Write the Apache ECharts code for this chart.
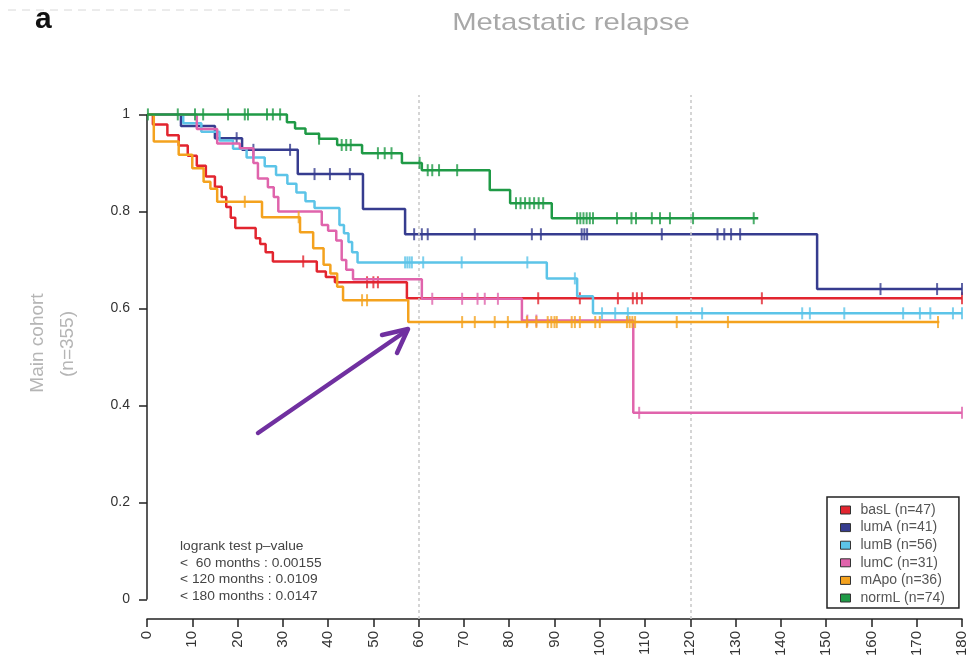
<!DOCTYPE html>
<html>
<head>
<meta charset="utf-8">
<script src="https://cdn.jsdelivr.net/npm/echarts@6/dist/echarts.min.js"></script>
<style>
  html, body { margin: 0; padding: 0; background: #fff; }
  #chart { width: 979px; height: 669px; }
</style>
</head>
<body>
<div id="chart"></div>
<script>
// ─── Data ────────────────────────────────────────

const groupNames = ['basL (n=47)', 'lumA (n=41)', 'lumB (n=56)', 'lumC (n=31)', 'mApo (n=36)', 'normL (n=74)'];
const groupColors = ['#e2252f', '#363c8f', '#5cc4e8', '#e064ac', '#f4a21e', '#1f9a46'];

const xTickLabels = [0, 10, 20, 30, 40, 50, 60, 70, 80, 90, 100, 110, 120, 130, 140, 150, 160, 170, 180];
const yTickValues = [0, 0.2, 0.4, 0.6, 0.8, 1];
const cutoffMonths = [60, 120];

// basL
const basLTimes = [0, 1.3, 4.5, 7, 9, 11, 13, 15, 16.5, 17.5, 18.5, 19.5, 24, 25, 26.2, 27.8, 37.5, 39.5, 41.5, 57.4, 180];
const basLSurv = [1, 0.979, 0.957, 0.936, 0.915, 0.894, 0.872, 0.851, 0.83, 0.809, 0.787, 0.766, 0.745, 0.733, 0.716, 0.697, 0.676, 0.665, 0.654, 0.621, 0.621];
const basLCensor = [34.5, 48.6, 50, 51, 86.4, 95.6, 104, 107.3, 108.2, 109.3, 135.8, 180];

// lumA
const lumATimes = [0, 7.5, 15, 21, 33.3, 47.7, 57, 148, 180];
const lumASurv = [1, 0.976, 0.951, 0.927, 0.877, 0.805, 0.753, 0.64, 0.64];
const lumACensor = [19.8, 23.5, 31.6, 37, 40.4, 44.8, 59, 60.7, 62, 72.4, 85, 87, 96, 96.6, 97.2, 113.7, 126, 127.5, 129, 131, 162, 174.5, 180];

// lumB
const lumBTimes = [0, 8, 12, 16, 19, 22, 26, 28.5, 31, 33, 35, 37, 42.5, 43.5, 44.5, 45.3, 46.5, 88.3, 95, 98.5, 180];
const lumBSurv = [1, 0.982, 0.964, 0.946, 0.929, 0.911, 0.893, 0.875, 0.857, 0.839, 0.821, 0.807, 0.772, 0.755, 0.737, 0.716, 0.695, 0.662, 0.625, 0.59, 0.59];
const lumBCensor = [57, 57.5, 58, 58.5, 61, 69.5, 84, 94.5, 100.5, 103.4, 106.2, 122.6, 144.7, 146.4, 154, 167, 170.7, 173, 178, 180];

// lumC
const lumCTimes = [0, 11, 15.5, 20.5, 23.5, 24.5, 26.7, 28, 29, 38.6, 40, 41.8, 43, 44, 45.5, 60.7, 82.8, 107.4, 180];
const lumCSurv = [1, 0.97, 0.94, 0.93, 0.9, 0.868, 0.85, 0.83, 0.8, 0.772, 0.76, 0.74, 0.7, 0.68, 0.66, 0.62, 0.575, 0.385, 0.385];
const lumCCensor = [63, 69.6, 73, 74.6, 77.5, 84, 86, 108.7, 180];

// mApo
const mApoTimes = [0, 1.5, 7, 10, 12.5, 14, 15.5, 25.4, 33.8, 36.7, 39, 40.5, 42, 43.3, 57.7, 175];
const mApoSurv = [1, 0.944, 0.917, 0.889, 0.861, 0.847, 0.82, 0.788, 0.757, 0.724, 0.69, 0.672, 0.645, 0.617, 0.572, 0.572];
const mApoCensor = [21.6, 33.5, 47.5, 48.6, 69.6, 72.4, 76.8, 79.7, 83.9, 86, 88.5, 89.3, 90, 90.5, 93.8, 94.5, 95.6, 99, 100, 106, 106.6, 107.2, 107.8, 117, 128.3, 174.7];

// normL
const normLTimes = [0, 30.9, 32.7, 35, 38, 42, 47.5, 56.3, 60.7, 75.7, 80.2, 89.4, 135];
const normLSurv = [1, 0.984, 0.971, 0.96, 0.95, 0.937, 0.92, 0.9, 0.885, 0.844, 0.817, 0.786, 0.786];
const normLCensor = [0.2, 6.8, 10.6, 12.4, 17.9, 21.6, 22.3, 26.5, 27.8, 29.4, 38, 43, 44, 45, 51, 52.5, 54, 60.2, 62, 63, 64.5, 68.5, 81.5, 82.5, 83.5, 84.5, 85.5, 86.5, 87.5, 95, 95.7, 96.4, 97.1, 97.8, 98.5, 103.8, 107, 108, 111.5, 113.3, 115.5, 120.6, 134];

const pValueLines = ['logrank test p\u2013value', '<  60 months : 0.00155', '< 120 months : 0.0109', '< 180 months : 0.0147'];

// ─── Chart ───────────────────────────────────────

const FONT = "'Liberation Sans', Arial, sans-serif";

const curves = [
  [basLTimes, basLSurv, basLCensor],
  [lumATimes, lumASurv, lumACensor],
  [lumBTimes, lumBSurv, lumBCensor],
  [lumCTimes, lumCSurv, lumCCensor],
  [mApoTimes, mApoSurv, mApoCensor],
  [normLTimes, normLSurv, normLCensor]
];

// value of the step curve at time t
function survAt(times, surv, t) {
  let v = surv[0];
  for (let i = 0; i < times.length; i++) {
    if (times[i] <= t) v = surv[i];
  }
  return v;
}

const series = [];

// dotted cut-offs at 60 and 120 months
series.push({
  type: 'line',
  data: [],
  silent: true,
  markLine: {
    silent: true,
    symbol: 'none',
    label: { show: false },
    lineStyle: { color: '#c8c8c8', type: [3, 3], width: 1.5 },
    data: cutoffMonths.map(m => ({ xAxis: m }))
  }
});

curves.forEach(([times, surv, censor], i) => {
  series.push({
    name: groupNames[i],
    type: 'line',
    step: 'end',
    showSymbol: false,
    silent: true,
    z: 3 + i,
    color: groupColors[i],
    lineStyle: { width: 2.5, color: groupColors[i] },
    data: times.map((t, k) => [t, surv[k]])
  });
  // censoring ticks
  series.push({
    name: groupNames[i],
    type: 'scatter',
    symbol: 'rect',
    symbolSize: [2, 12],
    silent: true,
    z: 3 + i,
    itemStyle: { color: groupColors[i] },
    data: censor.map(t => [t, survAt(times, surv, t)])
  });
});

// y axis line, only from 0 to 1 like base R
series.push({
  type: 'line',
  data: [],
  silent: true,
  z: 20,
  markLine: {
    silent: true,
    symbol: 'none',
    label: { show: false },
    lineStyle: { color: '#222', type: 'solid', width: 1.5 },
    data: [[{ coord: [0, yTickValues[0]] }, { coord: [0, yTickValues[yTickValues.length - 1]] }]]
  }
});

const chart = echarts.init(document.getElementById('chart'));

chart.setOption({
  animation: false,
  backgroundColor: '#fff',
  textStyle: { fontFamily: FONT },
  grid: { left: 147, right: 17, top: 95, bottom: 50 },
  xAxis: {
    type: 'value',
    min: xTickLabels[0],
    max: xTickLabels[xTickLabels.length - 1],
    interval: 10,
    splitLine: { show: false },
    axisLine: { onZero: false, lineStyle: { color: '#222', width: 1.5 } },
    axisTick: { length: 8, lineStyle: { color: '#222', width: 1.5 } },
    axisLabel: { rotate: 90, margin: 12, fontSize: 15, color: '#333', fontFamily: FONT }
  },
  yAxis: {
    type: 'value',
    min: -0.04,
    max: 1.04,
    splitLine: { show: false },
    axisLine: { show: false },
    axisTick: {
      show: true,
      length: 8,
      customValues: yTickValues,
      lineStyle: { color: '#222', width: 1.5 }
    },
    axisLabel: {
      customValues: yTickValues,
      margin: 17,
      fontSize: 14,
      color: '#333',
      fontFamily: FONT,
      formatter: v => String(+(+v).toFixed(1))
    }
  },
  legend: {
    data: groupNames,
    orient: 'vertical',
    left: 827,
    top: 497,
    padding: [6, 14, 3, 13],
    icon: 'rect',
    itemWidth: 10,
    itemHeight: 8,
    itemGap: 3.6,
    borderColor: '#222',
    borderWidth: 1.5,
    borderRadius: 0,
    selectedMode: false,
    itemStyle: { borderColor: '#333', borderWidth: 1 },
    textStyle: { fontSize: 14, color: '#555', fontFamily: FONT, lineHeight: 14, padding: [0, 0, 0, 5] }
  },
  graphic: [
    { type: 'line', silent: true, shape: { x1: 8, y1: 10, x2: 350, y2: 10 },
      style: { stroke: '#d8d8d8', lineWidth: 1, lineDash: [8, 6] } },
    { type: 'text', silent: true, x: 35, y: 20,
      style: { text: 'a', font: 'bold 30px ' + FONT, fill: '#111', textVerticalAlign: 'middle' } },
    { type: 'text', silent: true, x: 571, y: 23, scaleX: 1.22,
      style: { text: 'Metastatic relapse', font: '24px ' + FONT, fill: '#a8a8a8', textAlign: 'center', textVerticalAlign: 'middle' } },
    { type: 'text', silent: true, x: 38, y: 343, rotation: Math.PI / 2,
      style: { text: 'Main cohort', font: '19px ' + FONT, fill: '#b5b5b5', textAlign: 'center', textVerticalAlign: 'middle' } },
    { type: 'text', silent: true, x: 68, y: 344, rotation: Math.PI / 2,
      style: { text: '(n=355)', font: '19px ' + FONT, fill: '#b5b5b5', textAlign: 'center', textVerticalAlign: 'middle' } },
    ...pValueLines.map((t, i) => ({
      type: 'text', silent: true, x: 180, y: 547 + i * 16.5, scaleX: 1.15,
      style: { text: t, font: '12px ' + FONT, fill: '#444', textVerticalAlign: 'middle' }
    })),
    // purple annotation arrow
    { type: 'polyline', silent: true, shape: { points: [[258, 433], [406, 331]] },
      style: { stroke: '#7030a0', lineWidth: 4.5, lineCap: 'round' } },
    { type: 'polyline', silent: true, shape: { points: [[382, 335], [408, 329], [397, 353]] },
      style: { stroke: '#7030a0', lineWidth: 4.5, lineCap: 'round', lineJoin: 'round', fill: null } }
  ],
  series: series
});
</script>
</body>
</html>
